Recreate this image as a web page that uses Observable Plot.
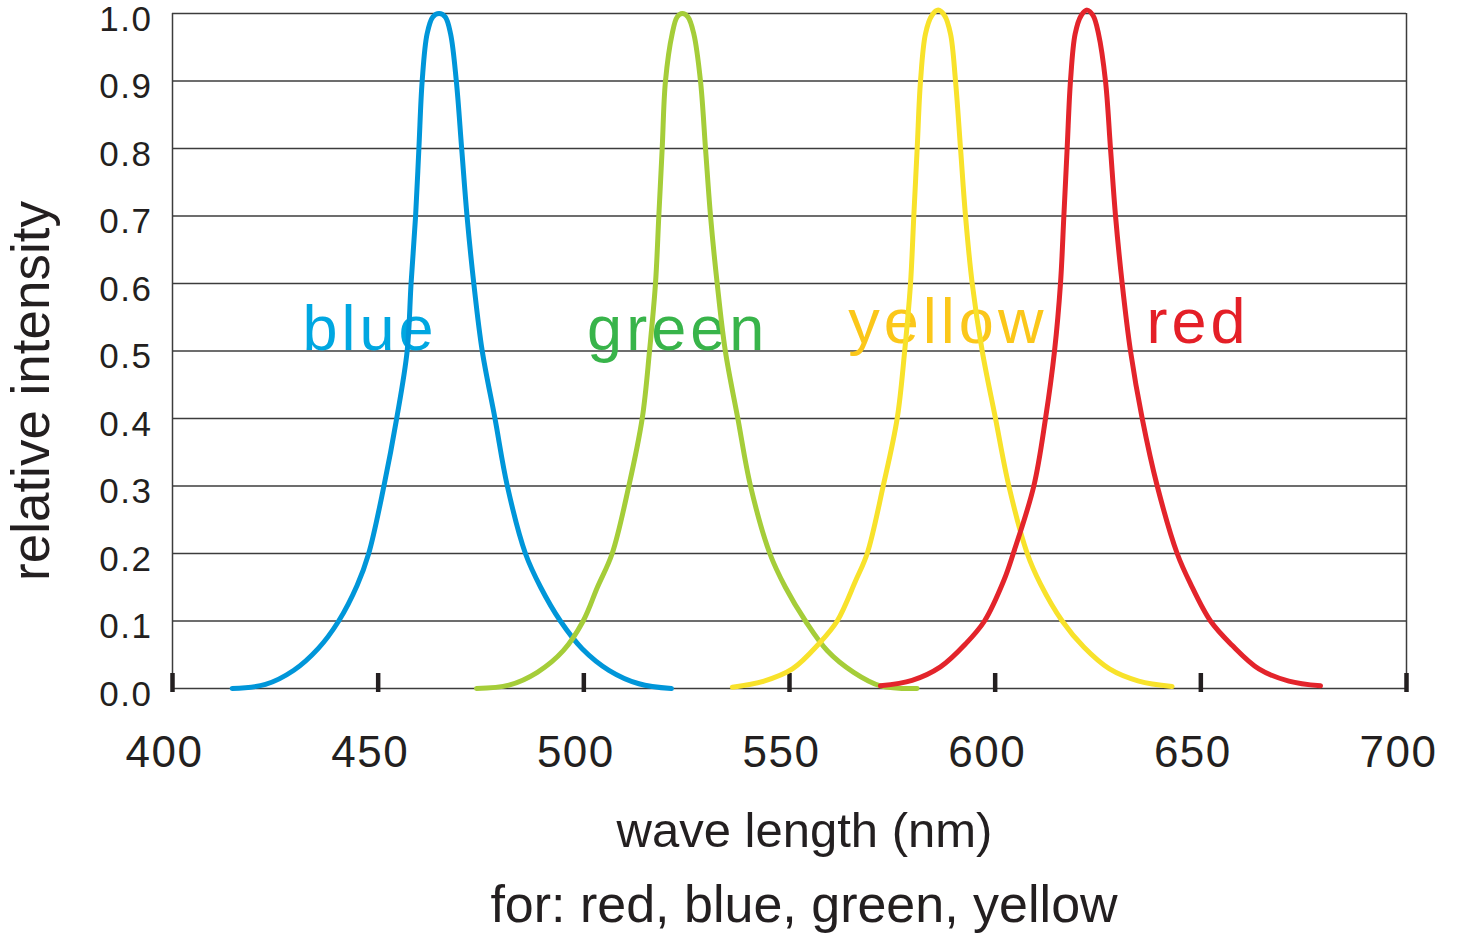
<!DOCTYPE html>
<html>
<head>
<meta charset="utf-8">
<script src="https://cdn.jsdelivr.net/npm/d3@7"></script>
<script src="https://cdn.jsdelivr.net/npm/@observablehq/plot@0.6"></script>
<style>
  html, body { margin: 0; padding: 0; background: #ffffff; }
  body { font-family: "Liberation Sans", Arial, Helvetica, sans-serif; width: 1457px; height: 937px; overflow: hidden; }
  #chart svg { display: block; }
  #caption {
    width: 1457px; box-sizing: border-box; padding-left: 151px;
    margin-top: 8px; text-align: center; font-size: 52px; line-height: 52px;
    color: #231f20; white-space: nowrap;
  }
</style>
</head>
<body>
<div id="chart"></div>
<div id="caption">for: red, blue, green, yellow</div>
<script>
// ---- data (wavelength in nm, relative intensity) ----
const seriesNames = ["blue", "green", "yellow", "red"];

const blueWl = [414.5, 422.6, 429.5, 435.4, 440.4, 444.9, 447.7, 451.4, 454.5, 457.05, 458.0, 459.1, 459.9, 460.7, 461.9, 463.3, 464.8, 466.3, 467.6, 469.0, 470.3, 471.6, 473.25, 475.3, 478.4, 481.4, 485.8, 489.5, 494.3, 499.6, 506.1, 513.4, 521.3];
const blueI  = [0, 0.006, 0.027, 0.059, 0.10, 0.153, 0.20, 0.30, 0.40, 0.50, 0.60, 0.70, 0.80, 0.90, 0.97, 0.995, 1.0, 0.995, 0.97, 0.90, 0.80, 0.70, 0.60, 0.50, 0.40, 0.30, 0.20, 0.15, 0.10, 0.059, 0.027, 0.007, 0.0];

const greenWl = [473.9, 481.8, 488.7, 495.0, 499.84, 503.3, 506.89, 510.94, 514.19, 515.97, 517.42, 518.23, 519.05, 519.85, 521.48, 522.7, 523.92, 525.3, 526.73, 528.36, 529.58, 530.8, 532.42, 534.4, 537.44, 540.52, 545.22, 549.0, 553.89, 559.2, 565.6, 572.1, 581.0];
const greenI  = [0, 0.005, 0.024, 0.056, 0.10, 0.15, 0.20, 0.30, 0.40, 0.50, 0.60, 0.70, 0.80, 0.90, 0.97, 0.995, 1.0, 0.995, 0.97, 0.90, 0.80, 0.70, 0.60, 0.50, 0.40, 0.30, 0.20, 0.15, 0.10, 0.056, 0.024, 0.004, 0];

const yellowWl = [536.1, 543.8, 550.7, 557.1, 561.6, 566.1, 568.89, 572.78, 576.18, 578.0, 579.42, 580.22, 581.04, 581.85, 583.06, 584.6, 586.15, 587.7, 589.14, 590.36, 591.58, 592.79, 594.42, 596.85, 600.08, 603.33, 607.8, 611.0, 616.3, 621.6, 627.8, 634.9, 643.0];
const yellowI  = [0.002, 0.011, 0.029, 0.066, 0.10, 0.16, 0.20, 0.30, 0.40, 0.50, 0.60, 0.70, 0.80, 0.90, 0.97, 0.997, 1.005, 0.997, 0.97, 0.90, 0.80, 0.70, 0.60, 0.50, 0.40, 0.30, 0.20, 0.155, 0.10, 0.061, 0.029, 0.011, 0.003];

const redWl = [572.1, 579.8, 586.7, 592.8, 597.41, 602.1, 604.4, 609.4, 612.24, 614.43, 615.88, 616.7, 617.5, 618.31, 619.45, 620.9, 622.37, 623.8, 625.12, 626.82, 628.04, 629.26, 630.88, 632.9, 635.75, 639.4, 644.25, 647.5, 652.35, 657.6, 664.1, 671.4, 679.1];
const redI  = [0.004, 0.012, 0.032, 0.066, 0.10, 0.16, 0.20, 0.30, 0.40, 0.50, 0.60, 0.70, 0.80, 0.90, 0.97, 0.997, 1.005, 0.997, 0.97, 0.90, 0.80, 0.70, 0.60, 0.50, 0.40, 0.30, 0.20, 0.155, 0.10, 0.064, 0.029, 0.011, 0.004];

// in-chart series labels (anchored in data units)
const labelWl = [431.6, 500.8, 564.3, 636.8];
const labelI  = [0.532, 0.532, 0.542, 0.542];

const xTicks = [400, 450, 500, 550, 600, 650, 700];
const yTicks = [0, 0.1, 0.2, 0.3, 0.4, 0.5, 0.6, 0.7, 0.8, 0.9, 1.0];

const xTitle = "wave length (nm)";
const yTitle = "relative intensity";

// ---- build tables ----
const wls = [blueWl, greenWl, yellowWl, redWl];
const vals = [blueI, greenI, yellowI, redI];
const rows = seriesNames.flatMap((s, k) => wls[k].map((w, i) => ({series: s, wl: w, v: vals[k][i]})));
const labels = seriesNames.map((s, k) => ({series: s, wl: labelWl[k], v: labelI[k]}));

const curveColors = {blue: "#0096d9", green: "#a5cd39", yellow: "#f8e22b", red: "#e3242b"};
const labelColors = {blue: "#00a7e1", green: "#38b44a", yellow: "#fbc71a", red: "#e41f27"};
const ink = "#231f20";

const lines = seriesNames.map(s =>
  Plot.line(rows.filter(d => d.series === s), {
    x: "wl", y: "v", stroke: curveColors[s], strokeWidth: 5,
    curve: "catmull-rom", strokeLinejoin: "round"
  })
);

const chart = Plot.plot({
  width: 1457,
  height: 870,
  marginLeft: 172,
  marginRight: 51,
  marginTop: 13,
  marginBottom: 182,
  style: {fontFamily: '"Liberation Sans", Arial, Helvetica, sans-serif', fontSize: "35px", color: ink, background: "#ffffff"},
  x: {domain: [400, 700], label: null},
  y: {domain: [0, 1], label: null},
  marks: [
    Plot.ruleY(yTicks, {stroke: "#3c3c3c", strokeWidth: 1.5}),
    Plot.ruleX([xTicks[0], xTicks[xTicks.length - 1]], {y1: 0, y2: 1, stroke: "#3c3c3c", strokeWidth: 1.5}),
    Plot.axisY({ticks: yTicks, tickSize: 0, tickPadding: 20, dy: 6, fontSize: 35, tickFormat: d3.format(".1f"), label: null}),
    Plot.axisX({ticks: xTicks, tickSize: -19, insetBottom: -4, strokeWidth: 4.5, stroke: ink, tickFormat: () => "", label: null}),
    Plot.axisX({ticks: xTicks, tickSize: 0, tickPadding: 47, dx: -8, fontSize: 44, tickFormat: d3.format("d"), label: null}),
    Plot.text([xTitle], {frameAnchor: "bottom", textAnchor: "middle", lineAnchor: "middle", dx: 15, dy: 143, fontSize: 49, fill: ink}),
    Plot.text([yTitle], {frameAnchor: "left", textAnchor: "middle", lineAnchor: "middle", rotate: -90, dx: -140, dy: 40, fontSize: 53, fill: ink}),
    Plot.text(labels, {x: "wl", y: "v", text: "series", textAnchor: "start", lineAnchor: "middle", fontSize: 63, fill: d => labelColors[d.series]}),
    ...lines
  ]
});

document.getElementById("chart").appendChild(chart);

// letter spacing to mimic the tracked Helvetica of the original
chart.querySelectorAll('g[aria-label="y-axis tick label"]').forEach(g => g.setAttribute("letter-spacing", "1.5"));
chart.querySelectorAll('g[aria-label="x-axis tick label"]').forEach(g => g.setAttribute("letter-spacing", "1.5"));
chart.querySelectorAll('g[aria-label="text"]').forEach(g => {
  if (g.textContent.includes("blue") && g.textContent.includes("red")) g.setAttribute("letter-spacing", "4");
});
</script>
</body>
</html>
